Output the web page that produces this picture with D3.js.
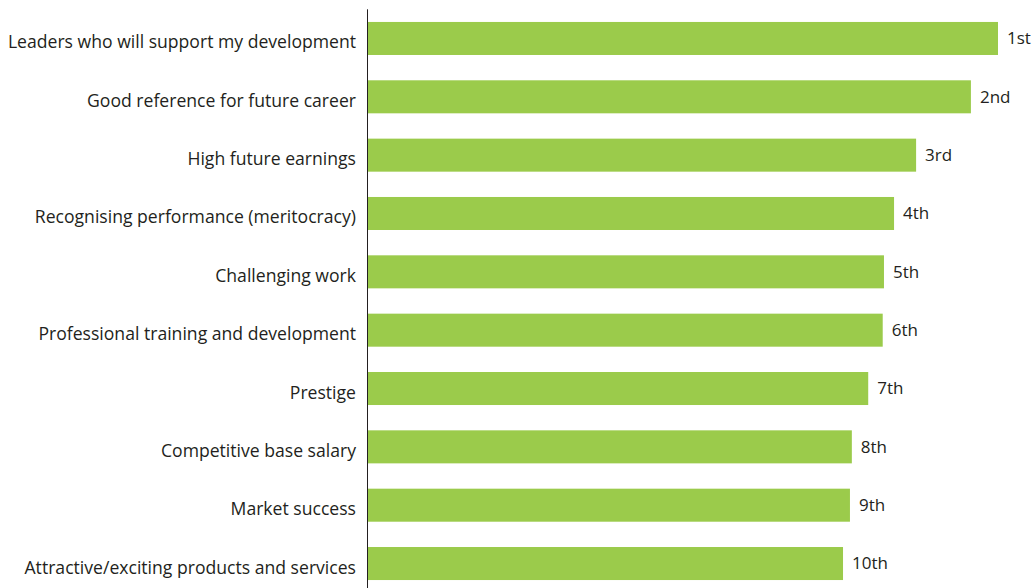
<!DOCTYPE html>
<html>
<head>
<meta charset="utf-8">
<script src="https://cdn.jsdelivr.net/npm/d3@7"></script>
<style>
  body { margin: 0; background: #fff; }
  svg { display: block; font-family: 'Open Sans', sans-serif; }
</style>
</head>
<body>
<svg id="chart"></svg>
<script>
// attributes ranked by students, top first
const categories = [
  'Leaders who will support my development',
  'Good reference for future career',
  'High future earnings',
  'Recognising performance (meritocracy)',
  'Challenging work',
  'Professional training and development',
  'Prestige',
  'Competitive base salary',
  'Market success',
  'Attractive/exciting products and services'
]
// relative score (top bar = 100)
const scores = [100, 95.7, 87.0, 83.5, 81.9, 81.7, 79.4, 76.8, 76.5, 75.4]
const ranks = ['1st', '2nd', '3rd', '4th', '5th', '6th', '7th', '8th', '9th', '10th']

const width = 1033
const height = 588
const colours = {
  bar: '#9bcb4b',
  text: '#231f20',
  axis: '#231f20'
}

const rows = categories.map((c, i) => ({ name: c, score: scores[i], rank: ranks[i] }))

const svg = d3.select('#chart')
  .attr('width', width)
  .attr('height', height)

const x = d3.scaleLinear()
  .domain([0, 100])
  .range([368, 998])

const y = d3.scaleBand()
  .domain(categories)
  .range([9.3, 592.7])
  .paddingInner(0.434)
  .paddingOuter(0.217)

svg.append('g')
  .selectAll('rect')
  .data(rows)
  .enter()
  .append('rect')
  .attr('x', x(0))
  .attr('y', d => y(d.name))
  .attr('width', d => x(d.score) - x(0))
  .attr('height', y.bandwidth())
  .style('fill', colours.bar)

// category labels sit a little below bar centre, like the original
svg.append('g')
  .selectAll('text')
  .data(rows)
  .enter()
  .append('text')
  .attr('x', x(0) - 12)
  .attr('y', d => y(d.name) + y.bandwidth() / 2 + 10)
  .attr('text-anchor', 'end')
  .style('font-size', '17.6px')
  .style('fill', colours.text)
  .text(d => d.name)

svg.append('g')
  .selectAll('text')
  .data(rows)
  .enter()
  .append('text')
  .attr('x', d => x(d.score) + 9)
  .attr('y', d => y(d.name) + y.bandwidth() / 2)
  .attr('dy', '0.35em')
  .style('font-size', '17px')
  .style('fill', colours.text)
  .text(d => d.rank)

svg.append('line')
  .attr('x1', x(0) - 0.5)
  .attr('x2', x(0) - 0.5)
  .attr('y1', y.range()[0])
  .attr('y2', height)
  .style('stroke', colours.axis)
  .style('stroke-width', 1)
</script>
</body>
</html>
